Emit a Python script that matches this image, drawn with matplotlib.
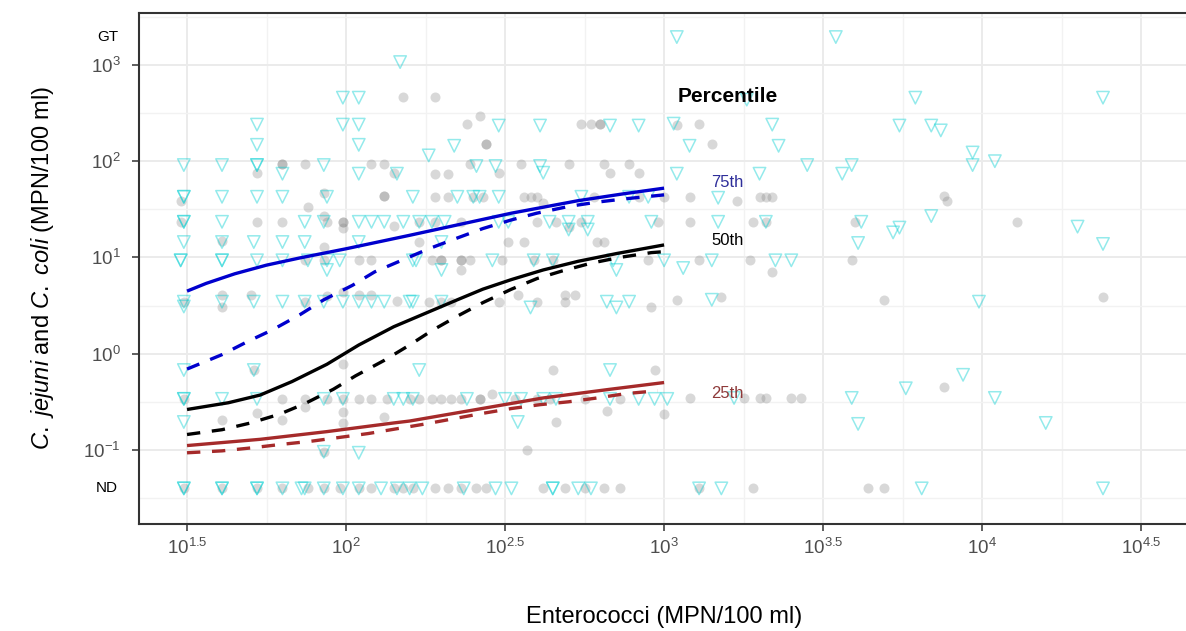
import numpy as np
import matplotlib
matplotlib.use("Agg")
import matplotlib.pyplot as plt
from matplotlib.ticker import FixedLocator, FixedFormatter, NullFormatter

# ── values, all in log10(MPN/100 ml) ────────────────────────────────────────
# (log10 enterococci, log10 campylobacter); ND plotted at -1.40, GT at 3.29
ND, GT = -1.40, 3.29

# grey filled circles
circ_pts = [
    (2.18, 2.67), (2.28, 2.67),
    (2.38, 2.39), (2.42, 2.47), (2.74, 2.39), (2.77, 2.39), (2.80, 2.39), (2.80, 2.39),
    (3.04, 2.38), (3.11, 2.39),
    (2.44, 2.18), (2.44, 2.18), (3.15, 2.18),
    (1.80, 1.97), (1.80, 1.97), (1.87, 1.97), (2.08, 1.97), (2.12, 1.97), (2.39, 1.97),
    (2.55, 1.97), (2.70, 1.97), (2.81, 1.97), (2.89, 1.97),
    (1.72, 1.88), (2.15, 1.88), (2.28, 1.87), (2.32, 1.87), (2.48, 1.88), (2.83, 1.88), (2.92, 1.88),
    (1.48, 1.59), (1.93, 1.67), (1.88, 1.52), (2.12, 1.64), (2.12, 1.64), (2.28, 1.63),
    (2.32, 1.63), (2.40, 1.63), (2.43, 1.63), (2.56, 1.63), (2.58, 1.63), (2.60, 1.63),
    (2.62, 1.57), (2.78, 1.63), (2.92, 1.63), (3.00, 1.63), (3.08, 1.63), (3.23, 1.59),
    (3.30, 1.63), (3.32, 1.63), (3.34, 1.63), (3.88, 1.64), (3.89, 1.59),
    (1.48, 1.37), (1.72, 1.37), (1.80, 1.37), (1.93, 1.43), (1.94, 1.37), (1.99, 1.37),
    (1.99, 1.37), (1.99, 1.31), (2.15, 1.33), (2.23, 1.37), (2.28, 1.37), (2.36, 1.37),
    (2.60, 1.37), (2.66, 1.37), (2.70, 1.32), (2.74, 1.37), (2.98, 1.37), (3.08, 1.37),
    (3.28, 1.37), (3.32, 1.37), (3.60, 1.37), (4.11, 1.37),
    (1.61, 1.17), (1.93, 1.11), (2.23, 1.16), (2.51, 1.16), (2.56, 1.16), (2.79, 1.16), (2.81, 1.16),
    (1.87, 0.97), (1.93, 0.97), (2.04, 0.97), (2.08, 0.97), (2.27, 0.97), (2.30, 0.97),
    (2.30, 0.97), (2.36, 0.97), (2.36, 0.97), (2.39, 0.97), (2.49, 0.97), (2.59, 0.97),
    (2.65, 0.97), (2.95, 0.97), (3.11, 0.97), (3.27, 0.97), (3.59, 0.97),
    (2.36, 0.87), (3.34, 0.85),
    (1.61, 0.61), (1.61, 0.49), (1.70, 0.61), (1.49, 0.54), (1.87, 0.54), (1.94, 0.60),
    (1.99, 0.64), (2.04, 0.61), (2.08, 0.61), (2.16, 0.55), (2.26, 0.54), (2.30, 0.54),
    (2.33, 0.54), (2.48, 0.54), (2.54, 0.61), (2.60, 0.54), (2.69, 0.61), (2.69, 0.54),
    (2.72, 0.61), (2.96, 0.49), (3.04, 0.56), (3.18, 0.59), (3.69, 0.56), (4.38, 0.59),
    (1.99, -0.11), (2.65, -0.17), (2.97, -0.17), (1.71, -0.17),
    (1.49, -0.47), (1.80, -0.47), (1.87, -0.47), (1.94, -0.47), (1.99, -0.47), (2.04, -0.47),
    (2.08, -0.47), (2.13, -0.47), (2.20, -0.47), (2.23, -0.47), (2.27, -0.47), (2.30, -0.47),
    (2.33, -0.47), (2.36, -0.47), (2.42, -0.47), (2.42, -0.47), (2.46, -0.42), (2.53, -0.47),
    (2.60, -0.47), (2.64, -0.47), (2.75, -0.47), (2.86, -0.47), (3.08, -0.46), (3.25, -0.46),
    (3.30, -0.46), (3.32, -0.46), (3.40, -0.46), (3.43, -0.46), (3.88, -0.35),
    (1.87, -0.55), (1.61, -0.69), (1.72, -0.62), (1.80, -0.69), (1.99, -0.61), (1.99, -0.72),
    (2.12, -0.66), (2.82, -0.60), (3.00, -0.63), (2.66, -0.71),
    (1.93, -1.02), (2.57, -1.00),
]
circ_nd_x = [1.49, 1.61, 1.72, 1.80, 1.88, 1.93, 1.98, 2.04, 2.08, 2.15, 2.18, 2.21, 2.28,
             2.32, 2.36, 2.41, 2.44, 2.62, 2.69, 2.75, 2.81, 2.86, 3.11, 3.28, 3.64, 3.69]

# cyan open triangles
tri_pts = [
    (2.17, 3.03), (3.04, GT), (3.54, GT),
    (1.99, 2.66), (2.04, 2.66), (3.26, 2.64), (3.79, 2.66), (4.38, 2.66),
    (1.72, 2.38), (1.99, 2.38), (2.04, 2.38), (2.48, 2.37), (2.61, 2.37), (2.83, 2.37),
    (2.92, 2.37), (3.03, 2.39), (3.34, 2.38), (3.74, 2.37), (3.84, 2.37), (3.87, 2.32),
    (1.72, 2.17), (2.04, 2.17), (2.34, 2.16), (3.08, 2.16), (3.36, 2.16), (2.26, 2.06),
    (3.97, 2.09), (3.97, 1.96), (4.04, 2.00),
    (1.49, 1.96), (1.61, 1.96), (1.72, 1.96), (1.72, 1.96), (1.93, 1.96), (2.41, 1.95),
    (2.47, 1.95), (2.61, 1.95), (3.45, 1.96), (3.59, 1.96),
    (1.80, 1.87), (2.04, 1.87), (2.16, 1.87), (2.62, 1.88), (3.04, 1.87), (3.30, 1.87), (3.56, 1.87),
    (1.49, 1.63), (1.49, 1.63), (1.61, 1.63), (1.72, 1.63), (1.80, 1.63), (1.94, 1.63),
    (2.21, 1.63), (2.35, 1.63), (2.40, 1.63), (2.42, 1.63), (2.48, 1.63), (2.74, 1.63),
    (2.89, 1.63), (2.95, 1.63), (3.17, 1.62),
    (1.49, 1.37), (1.49, 1.37), (1.61, 1.37), (1.87, 1.37), (1.93, 1.37), (2.04, 1.37),
    (2.08, 1.37), (2.12, 1.37), (2.18, 1.37), (2.23, 1.37), (2.27, 1.37), (2.31, 1.37),
    (2.48, 1.37), (2.51, 1.37), (2.64, 1.37), (2.70, 1.37), (2.76, 1.37), (2.96, 1.37),
    (3.17, 1.37), (3.32, 1.37), (3.62, 1.37), (3.84, 1.43), (3.74, 1.31), (3.72, 1.26),
    (4.30, 1.32), (2.70, 1.29), (2.76, 1.29),
    (1.49, 1.16), (1.61, 1.16), (1.71, 1.16), (1.80, 1.16), (1.87, 1.16), (2.04, 1.16),
    (2.30, 1.16), (3.61, 1.15), (4.38, 1.14),
    (1.48, 0.97), (1.48, 0.97), (1.61, 0.97), (1.61, 0.97), (1.72, 0.97), (1.80, 0.97),
    (1.88, 0.97), (1.94, 0.97), (1.98, 0.97), (2.21, 0.97), (2.22, 0.97), (2.46, 0.97),
    (2.59, 0.97), (2.65, 0.97), (2.84, 0.97), (3.00, 0.97), (3.15, 0.97), (3.35, 0.97), (3.40, 0.97),
    (1.94, 0.87), (2.30, 0.87), (2.85, 0.87), (3.06, 0.89),
    (1.49, 0.54), (1.49, 0.49), (1.61, 0.54), (1.71, 0.54), (1.80, 0.54), (1.87, 0.54),
    (1.93, 0.54), (1.99, 0.54), (2.04, 0.54), (2.08, 0.54), (2.12, 0.54), (2.20, 0.54),
    (2.21, 0.54), (2.30, 0.54), (2.58, 0.48), (2.82, 0.54), (2.85, 0.48), (2.89, 0.54),
    (3.15, 0.56), (3.99, 0.54),
    (1.49, -0.17), (1.71, -0.17), (2.23, -0.17), (2.83, -0.17), (3.94, -0.22), (3.76, -0.36),
    (1.49, -0.47), (1.49, -0.47), (1.61, -0.47), (1.72, -0.47), (1.93, -0.47), (1.99, -0.47),
    (2.15, -0.47), (2.18, -0.47), (2.21, -0.47), (2.38, -0.47), (2.50, -0.47), (2.55, -0.47),
    (2.62, -0.47), (2.66, -0.47), (2.83, -0.47), (2.92, -0.47), (2.97, -0.47), (3.01, -0.47),
    (3.22, -0.46), (3.59, -0.46), (4.04, -0.46),
    (1.49, -0.71), (2.54, -0.71), (3.61, -0.73), (4.20, -0.72),
    (1.93, -1.02), (2.04, -1.03),
]
tri_nd_x = [1.49, 1.49, 1.61, 1.61, 1.72, 1.72, 1.80, 1.86, 1.87, 1.93, 1.99, 2.04, 2.11,
            2.16, 2.20, 2.24, 2.37, 2.47, 2.52, 2.65, 2.65, 2.73, 2.77, 3.11, 3.18, 3.81, 4.38]

# percentile curves (log10 x, log10 y)
p75_solid = [(1.50, 0.65), (1.56, 0.73), (1.65, 0.83), (1.75, 0.92), (1.855, 0.995),
             (2.00, 1.09), (2.20, 1.23), (2.52, 1.46), (2.73, 1.59), (2.87, 1.66), (3.00, 1.72)]
p75_dashed = [(1.50, -0.16), (1.61, -0.01), (1.69, 0.125), (1.77, 0.25), (1.855, 0.405),
              (1.93, 0.56), (2.02, 0.71), (2.09, 0.85), (2.26, 1.09), (2.34, 1.19),
              (2.43, 1.30), (2.52, 1.39), (2.60, 1.46), (2.70, 1.53), (2.79, 1.575),
              (2.88, 1.61), (2.97, 1.64), (3.00, 1.65)]
p50_solid = [(1.50, -0.58), (1.63, -0.51), (1.73, -0.43), (1.83, -0.29), (1.94, -0.11),
             (2.04, 0.09), (2.15, 0.28), (2.25, 0.42), (2.35, 0.56), (2.43, 0.67),
             (2.52, 0.77), (2.62, 0.87), (2.73, 0.96), (2.85, 1.04), (3.00, 1.13)]
p50_dashed = [(1.50, -0.84), (1.61, -0.79), (1.70, -0.72), (1.79, -0.63), (1.87, -0.52),
              (1.96, -0.37), (2.03, -0.23), (2.12, -0.07), (2.20, 0.09), (2.27, 0.24),
              (2.35, 0.39), (2.43, 0.53), (2.52, 0.67), (2.60, 0.78), (2.68, 0.86),
              (2.77, 0.94), (2.86, 1.00), (2.96, 1.05), (3.00, 1.06)]
p25_solid = [(1.50, -0.955), (1.73, -0.89), (1.94, -0.81), (2.15, -0.72), (2.20, -0.70),
             (2.41, -0.58), (2.62, -0.46), (2.83, -0.37), (3.00, -0.30)]
p25_dashed = [(1.50, -1.03), (1.61, -1.01), (1.70, -0.98), (1.79, -0.945), (1.89, -0.91),
              (1.98, -0.87), (2.07, -0.83), (2.16, -0.78), (2.25, -0.73), (2.34, -0.675),
              (2.43, -0.62), (2.52, -0.57), (2.61, -0.53), (2.70, -0.50), (2.79, -0.46),
              (2.88, -0.415), (2.98, -0.385)]

x_tick_exp = [1.5, 2, 2.5, 3, 3.5, 4, 4.5]
x_tick_lab = ["$10^{1.5}$", "$10^{2}$", "$10^{2.5}$", "$10^{3}$", "$10^{3.5}$", "$10^{4}$", "$10^{4.5}$"]
y_tick_exp = [-1, 0, 1, 2, 3]
y_tick_lab = ["$10^{-1}$", "$10^{0}$", "$10^{1}$", "$10^{2}$", "$10^{3}$"]

# ── style ──────────────────────────────────────────────────────────────────
plt.rcParams["font.family"] = ["Liberation Sans", "DejaVu Sans"]
plt.rcParams["mathtext.fontset"] = "custom"
plt.rcParams["mathtext.rm"] = "Liberation Sans"
plt.rcParams["mathtext.it"] = "Liberation Sans:italic"
plt.rcParams["mathtext.bf"] = "Liberation Sans:bold"

W, H = 1186, 631
fig = plt.figure(figsize=(W / 100, H / 100), dpi=100)
ax = fig.add_axes([139 / W, 1 - 524 / H, 1 - 139 / W, (524 - 13) / H])
ax.set_xscale("log")
ax.set_yscale("log")
ax.set_xlim(10 ** 1.349, 10 ** 4.641)
ax.set_ylim(10 ** -1.77, 10 ** 3.54)

# points
cx, cy = np.array(circ_pts).T
cx = np.concatenate([cx, circ_nd_x])
cy = np.concatenate([cy, np.full(len(circ_nd_x), ND)])
ax.scatter(10 ** cx, 10 ** cy, s=52, color="#808080", alpha=0.3, linewidths=0, zorder=2)

tx, ty = np.array(tri_pts).T
tx = np.concatenate([tx, tri_nd_x])
ty = np.concatenate([ty, np.full(len(tri_nd_x), ND)])
ax.scatter(10 ** tx, 10 ** ty, s=80, marker="v", facecolors="none",
           edgecolors="#00CED1", alpha=0.42, linewidths=1.1, zorder=3)

# curves
curves = [
    (p75_solid, "#0000CD", "-"), (p75_dashed, "#0000CD", (0, (4, 3.5))),
    (p50_solid, "black", "-"), (p50_dashed, "black", (0, (4, 3.5))),
    (p25_solid, "#A52A2A", "-"), (p25_dashed, "#A52A2A", (0, (4, 3.5))),
]
for pts, clr, ls in curves:
    lx, ly = np.array(pts).T
    ax.plot(10 ** lx, 10 ** ly, color=clr, ls=ls, lw=2.4, zorder=4,
            solid_capstyle="butt", dash_capstyle="butt", solid_joinstyle="round")

# curve labels
lab_x = 10 ** 3.20
ax.text(lab_x, 10 ** 2.67, "Percentile", fontsize=15, fontweight="bold",
        ha="center", va="center", zorder=5)
ax.text(lab_x, 10 ** 1.78, "75th", fontsize=12, color="#2E2E9A", ha="center", va="center", zorder=5)
ax.text(lab_x, 10 ** 1.18, "50th", fontsize=12, color="black", ha="center", va="center", zorder=5)
ax.text(lab_x, 10 ** -0.415, "25th", fontsize=12, color="#8E3A3A", ha="center", va="center", zorder=5)

# axes, ticks, grid
ax.xaxis.set_major_locator(FixedLocator([10 ** e for e in x_tick_exp]))
ax.xaxis.set_major_formatter(FixedFormatter(x_tick_lab))
ax.xaxis.set_minor_locator(FixedLocator([10 ** (e + 0.25) for e in x_tick_exp]))
ax.xaxis.set_minor_formatter(NullFormatter())
ax.yaxis.set_major_locator(FixedLocator([10 ** e for e in y_tick_exp]))
ax.yaxis.set_major_formatter(FixedFormatter(y_tick_lab))
ax.yaxis.set_minor_locator(FixedLocator([10 ** (e - 0.5) for e in y_tick_exp] + [10 ** 3.5]))
ax.yaxis.set_minor_formatter(NullFormatter())

ax.grid(which="major", color="#EBEBEB", lw=1.4)
ax.grid(which="minor", color="#F2F2F2", lw=1.0)
ax.set_axisbelow(True)
ax.tick_params(which="minor", length=0)
ax.tick_params(which="major", length=5, width=1.1, color="#333333",
               labelcolor="#4D4D4D", labelsize=13.5)
ax.tick_params(axis="y", pad=8)
ax.tick_params(axis="x", pad=5)

for side in ["left", "top", "bottom"]:
    ax.spines[side].set_color("#333333")
    ax.spines[side].set_linewidth(1.5)
ax.spines["right"].set_visible(False)

ytr = ax.get_yaxis_transform()
ax.text(-0.02, 10 ** GT, "GT", transform=ytr, ha="right", va="center", fontsize=11)
ax.text(-0.02, 10 ** ND, "ND", transform=ytr, ha="right", va="center", fontsize=11)

fig.text(42 / W, 1 - 268 / H, r"$\it{C.\ jejuni}$ and $\it{C.\ coli}$ (MPN/100 ml)",
         rotation=90, ha="center", va="center", fontsize=17)
fig.text(664 / W, 1 - 617 / H, "Enterococci (MPN/100 ml)",
         ha="center", va="center", fontsize=17)

fig.savefig("out.png", dpi=100)
